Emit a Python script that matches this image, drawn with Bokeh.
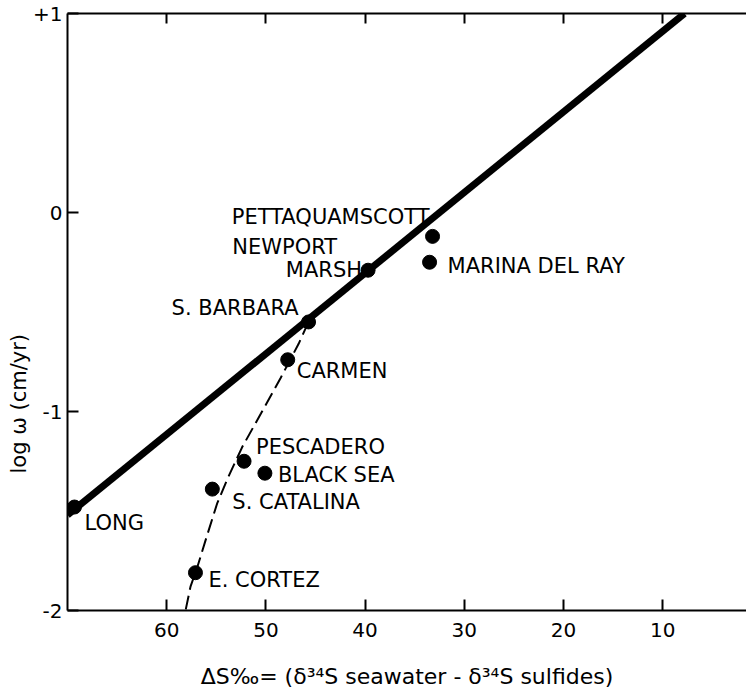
import math
from bokeh.plotting import figure
from bokeh.models import Range1d, LinearAxis, FixedTicker, Title, ColumnDataSource
from bokeh.core.properties import value
from bokeh.embed import file_html
from bokeh.resources import INLINE

# ---- data ----
sites = ["PETTAQUAMSCOTT", "MARINA DEL RAY", "NEWPORT MARSH", "S. BARBARA", "CARMEN",
         "PESCADERO", "BLACK SEA", "S. CATALINA", "LONG", "E. CORTEZ"]
delta_s = [33.2, 33.5, 39.7, 45.7, 47.8, 52.2, 50.1, 55.4, 69.3, 57.1]
log_w = [-0.12, -0.25, -0.29, -0.55, -0.74, -1.25, -1.31, -1.39, -1.48, -1.81]

fit_x = [70.0, 7.8]
fit_y = [-1.52, 1.0]

curve_x = [45.7, 46.7, 48.5, 50.5, 52.4, 53.8, 54.9, 56.1, 56.9, 57.6, 58.1]
curve_y = [-0.55, -0.66, -0.83, -1.01, -1.18, -1.33, -1.46, -1.65, -1.78, -1.88, -2.0]

x_ticks = [60, 50, 40, 30, 20, 10]
y_ticks = [-2, -1, 0, 1]
y_tick_labels = ["-2", "-1", "0", "+1"]

FONT = "DejaVu Sans"

p = figure(width=746, height=693, output_backend="svg", toolbar_location=None,
           x_range=Range1d(70, 1.55), y_range=Range1d(-2, 1),
           min_border_left=67, min_border_right=0, min_border_top=13, min_border_bottom=83,
           background_fill_color="white", border_fill_color="white")
p.outline_line_color = None
p.grid.visible = False

for ax in (p.xaxis[0], p.yaxis[0]):
    ax.axis_line_width = 2
    ax.axis_line_color = "black"
    ax.major_tick_line_width = 2
    ax.major_tick_line_color = "black"
    ax.major_tick_in = 11
    ax.major_tick_out = 0
    ax.minor_tick_line_color = None
    ax.major_label_text_font = FONT
    ax.major_label_text_font_size = "20px"
    ax.major_label_text_color = "black"

p.xaxis.ticker = FixedTicker(ticks=x_ticks)
p.xaxis.major_label_standoff = 12
p.xaxis.axis_label = "ΔS‰= (δ³⁴S seawater - δ³⁴S sulfides)"
p.xaxis.axis_label_text_font = FONT
p.xaxis.axis_label_text_font_size = "22px"
p.xaxis.axis_label_text_font_style = "normal"
p.xaxis.axis_label_text_color = "black"
p.xaxis.axis_label_standoff = 24

p.yaxis.ticker = FixedTicker(ticks=y_ticks)
p.yaxis.major_label_overrides = {t: s for t, s in zip(y_ticks, y_tick_labels)}
p.yaxis.major_label_standoff = 5
p.yaxis.axis_label_standoff = 0

top = LinearAxis(ticker=FixedTicker(ticks=x_ticks))
top.axis_line_width = 2
top.major_tick_line_width = 2
top.major_tick_in = 10
top.major_tick_out = 0
top.minor_tick_line_color = None
top.major_label_text_color = None
top.major_label_text_font_size = "1px"
top.major_label_standoff = 0
p.add_layout(top, "above")

# y-axis title, placed low along the axis as in the original
ytitle = Title(text="log ω  (cm/yr)", align="left", offset=137, standoff=0,
               text_font=FONT, text_font_size="21px", text_font_style="normal",
               text_color="black")
p.add_layout(ytitle, "left")

# fitted line and dashed curve
p.line(fit_x, fit_y, line_width=7, line_color="black")
p.line(curve_x, curve_y, line_width=2, line_color="black", line_dash="14 6")

# points
src = ColumnDataSource(dict(x=delta_s, y=log_w, name=sites))
p.scatter("x", "y", source=src, size=14, fill_color="black", line_color="black")

# labels (style: alignment and pixel offsets from each point)
label_style = {
    "PETTAQUAMSCOTT": [("PETTAQUAMSCOTT", "right", -3, -19)],
    "MARINA DEL RAY": [("MARINA DEL RAY", "left", 18, 4)],
    "NEWPORT MARSH": [("NEWPORT", "right", -31, -23), ("MARSH", "right", -6, 0)],
    "S. BARBARA": [("S. BARBARA", "right", -10, -14)],
    "CARMEN": [("CARMEN", "left", 9, 11)],
    "PESCADERO": [("PESCADERO", "left", 12, -14)],
    "BLACK SEA": [("BLACK SEA", "left", 13, 2)],
    "S. CATALINA": [("S. CATALINA", "left", 20, 13)],
    "LONG": [("LONG", "left", 10, 16)],
    "E. CORTEZ": [("E. CORTEZ", "left", 13, 7)],
}
for site, xs, ys in zip(sites, delta_s, log_w):
    for txt, align, dx, dy in label_style[site]:
        p.text(x=[xs], y=[ys], text=[txt], text_align=align, text_baseline="middle",
               x_offset=dx, y_offset=dy, text_font=value(FONT),
               text_font_size="21px", text_color="black")

open("out.html", "w").write(file_html(p, INLINE))
